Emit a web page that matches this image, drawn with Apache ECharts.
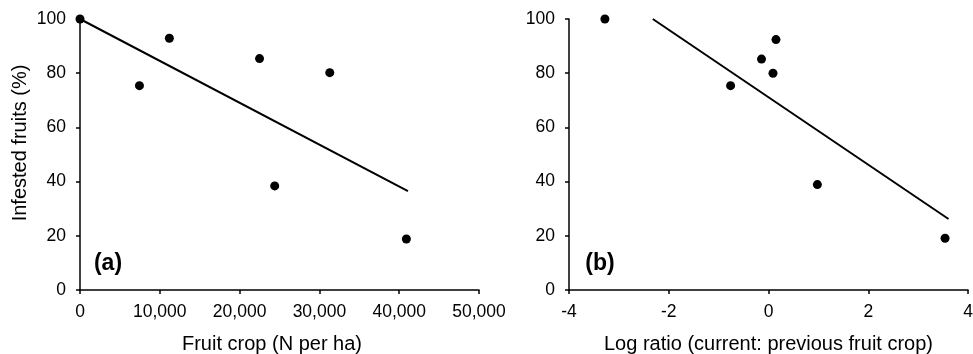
<!DOCTYPE html>
<html>
<head>
<meta charset="utf-8">
<script src="https://cdn.jsdelivr.net/npm/echarts@6/dist/echarts.min.js"></script>
<style>html,body{margin:0;padding:0;background:#fff}#c{width:973px;height:354px}</style>
</head>
<body>
<div id="c"></div>
<script>
// Panel (a): fruit crop vs infested fruits
const cropX = [0, 7450, 11200, 22500, 24400, 31300, 40900];
const cropY = [100, 75.4, 92.9, 85.4, 38.4, 80.2, 18.8];
const cropFitX = [0, 41100];
const cropFitY = [100, 36.5];
// Panel (b): log ratio vs infested fruits
const ratioX = [-3.28, -0.76, -0.14, 0.15, 0.09, 0.98, 3.54];
const ratioY = [100, 75.4, 85.2, 92.4, 80, 38.9, 19.1];
const ratioFitX = [-2.32, 3.61];
const ratioFitY = [100, 26.2];
const yTicks = [0, 20, 40, 60, 80, 100];

const FONT = 'Liberation Sans, Arial, sans-serif';
const zip = (a, b) => a.map((v, i) => [v, b[i]]);

const axisCommon = {
  axisLine: { show: true, onZero: false, lineStyle: { color: '#000', width: 1.5 } },
  axisTick: { show: true, inside: false, length: 4, lineStyle: { color: '#000', width: 1.5 } },
  splitLine: { show: false },
  axisLabel: { color: '#000', fontSize: 17.5, fontFamily: FONT }
};

const chart = echarts.init(document.getElementById('c'), null, { renderer: 'canvas' });
chart.setOption({
  backgroundColor: '#fff',
  animation: false,
  grid: [
    { left: 80, right: 494, top: 19, bottom: 64, containLabel: false, outerBoundsMode: 'none' },
    { left: 569, right: 5, top: 19, bottom: 64, containLabel: false, outerBoundsMode: 'none' }
  ],
  xAxis: [
    Object.assign({}, axisCommon, {
      gridIndex: 0, type: 'value', min: 0, max: 50000, interval: 10000,
      axisLabel: Object.assign({}, axisCommon.axisLabel, { margin: 13,
        formatter: v => v.toLocaleString('en-US') }),
      name: 'Fruit crop (N per ha)', nameLocation: 'middle', nameGap: 44,
      nameTextStyle: { color: '#000', fontSize: 20, fontFamily: FONT, padding: [0, 15, 0, 0] }
    }),
    Object.assign({}, axisCommon, {
      gridIndex: 1, type: 'value', min: -4, max: 4, interval: 2,
      axisLabel: Object.assign({}, axisCommon.axisLabel, { margin: 13 }),
      name: 'Log ratio (current: previous fruit crop)', nameLocation: 'middle', nameGap: 44,
      nameTextStyle: { color: '#000', fontSize: 20, fontFamily: FONT }
    })
  ],
  yAxis: [0, 1].map(i => Object.assign({}, axisCommon, {
    gridIndex: i, type: 'value', min: yTicks[0], max: yTicks[yTicks.length - 1], interval: 20,
    axisLabel: Object.assign({}, axisCommon.axisLabel, { margin: 14 })
  })),
  graphic: [
    { type: 'text', x: 20, y: 143, rotation: Math.PI / 2,
      style: { text: 'Infested fruits (%)', fill: '#000', font: '20px ' + FONT, align: 'center', verticalAlign: 'middle' } },
    { type: 'text', x: 108, y: 264,
      style: { text: '(a)', fill: '#000', font: 'bold 23px ' + FONT, align: 'center', verticalAlign: 'middle' } },
    { type: 'text', x: 600, y: 264,
      style: { text: '(b)', fill: '#000', font: 'bold 23px ' + FONT, align: 'center', verticalAlign: 'middle' } }
  ],
  series: [
    { type: 'line', xAxisIndex: 0, yAxisIndex: 0, data: zip(cropFitX, cropFitY), symbol: 'none',
      lineStyle: { color: '#000', width: 2 }, clip: false },
    { type: 'scatter', xAxisIndex: 0, yAxisIndex: 0, data: zip(cropX, cropY), symbol: 'circle', symbolSize: 9,
      itemStyle: { color: '#000', opacity: 1 }, clip: false },
    { type: 'line', xAxisIndex: 1, yAxisIndex: 1, data: zip(ratioFitX, ratioFitY), symbol: 'none',
      lineStyle: { color: '#000', width: 2 }, clip: false },
    { type: 'scatter', xAxisIndex: 1, yAxisIndex: 1, data: zip(ratioX, ratioY), symbol: 'circle', symbolSize: 9,
      itemStyle: { color: '#000', opacity: 1 }, clip: false }
  ]
});
</script>
</body>
</html>
